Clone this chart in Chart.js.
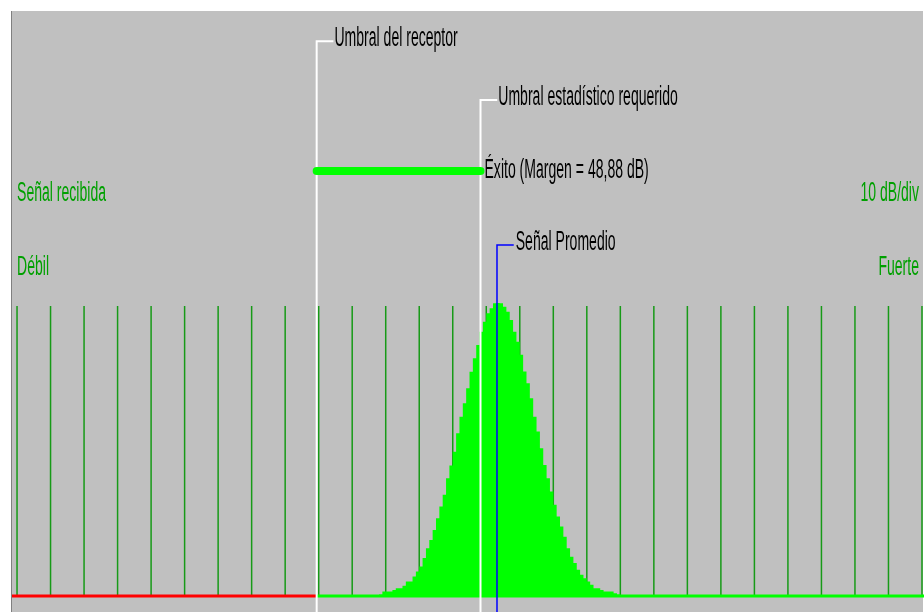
<!DOCTYPE html>
<html>
<head>
<meta charset="utf-8">
<script src="https://cdn.jsdelivr.net/npm/chart.js@4.4.1/dist/chart.umd.min.js"></script>
<style>
  html, body { margin: 0; padding: 0; background: #ffffff; }
  .container { width: 924px; height: 612px; position: relative; }
  canvas { width: 100% !important; height: 100% !important; }
</style>
</head>
<body>
<div class="container">
  <canvas id="marginChart"></canvas>
</div>
<script>
  "use strict";

  // ---------------------------
  // Data (dB on x, relative level on y, peak = 100)
  // ---------------------------

  const gridDb = [0, 10, 20, 30, 40, 50, 60, 70, 80, 90, 100, 110, 120, 130,
    140, 150, 160, 170, 180, 190, 200, 210, 220, 230, 240, 250, 260, 270];

  const signalStartDb = 107; // left edge of first 1 dB bin
  const signalLevel = [
    0, 0.5, 1.5, 1.5, 1.5, 2.0, 2.6, 2.6, 3.5, 4.9,
    4.9, 6.6, 8.3, 10.0, 12.9, 16.3, 19.1, 22.5, 26.5, 30.5,
    34.5, 40.2, 44.5, 49.2, 55.5, 61.2, 65.8, 70.9, 76.5, 81.1,
    85.7, 90.2, 93.6, 96.5, 98.2, 99.9, 100, 99.9, 98.7, 97.0,
    94.2, 90.2, 86.8, 82.3, 76.6, 72.6, 67.5, 61.2, 56.1, 50.4,
    44.7, 40.2, 35.6, 31.1, 27.1, 23.7, 20.2, 16.3, 13.4, 11.2,
    8.9, 7.2, 6.0, 4.9, 3.8, 2.6, 2.6, 2.0, 1.5, 1.5,
    1.5, 0.9, 0.5, 0
  ];

  const receiverThresholdDb = 89.4;
  const marginDb = 48.88;
  const requiredThresholdDb = receiverThresholdDb + marginDb;
  const meanSignalDb = 143.2;

  const GRID_TOP = 99;

  const labelReceiver = "Umbral del receptor";
  const labelRequired = "Umbral estadístico requerido";
  const labelSuccess = "Éxito (Margen = 48,88 dB)";
  const labelMean = "Señal Promedio";
  const labelSignal = "Señal recibida";
  const labelScale = "10 dB/div";
  const labelWeak = "Débil";
  const labelStrong = "Fuerte";

  // ---------------------------
  // Layout
  // ---------------------------

  const X_MIN = -1.5;
  const X_MAX = 270.6;
  const Y_MIN = -5.5;
  const Y_MAX = 199.7;
  const STUB = 5;

  const LVL_RECEIVER = 189.4;
  const LVL_REQUIRED = 169.3;
  const LVL_SUCCESS = 145.1;
  const LVL_MEAN = 119.8;
  const LVL_ROW1 = 134.7;
  const LVL_ROW2 = 109.4;

  const FONT = '27px "Liberation Sans", Arial, sans-serif';
  const SQUEEZE = 0.52;

  // ---------------------------
  // Build datasets
  // ---------------------------

  function gridPoints() {
    const pts = [];
    gridDb.forEach(x => {
      pts.push({ x: x, y: 0 }, { x: x, y: GRID_TOP }, { x: x, y: null });
    });
    return pts;
  }

  function signalPoints() {
    return signalLevel.map((v, i) => ({ x: signalStartDb + i, y: v }));
  }

  function marker(x, level) {
    return [{ x: x, y: Y_MIN }, { x: x, y: level }, { x: x + STUB, y: level }];
  }

  // ---------------------------
  // Panel + text plugin
  // ---------------------------

  function drawText(ctx, text, x, y, color, align) {
    ctx.save();
    ctx.translate(x, y);
    ctx.scale(SQUEEZE, 1);
    ctx.font = FONT;
    ctx.fillStyle = color;
    ctx.textAlign = align;
    ctx.textBaseline = "alphabetic";
    ctx.fillText(text, 0, 0);
    ctx.restore();
  }

  const panelPlugin = {
    id: "panel",
    beforeDraw(chart) {
      const { ctx, chartArea: a } = chart;
      ctx.save();
      ctx.fillStyle = "#c0c0c0";
      ctx.fillRect(a.left, a.top, a.right - a.left - 1, a.bottom - a.top);
      ctx.fillStyle = "#808080";
      ctx.fillRect(a.left - 1, a.top, 1, a.bottom - a.top);
      ctx.restore();
    },
    afterDatasetsDraw(chart) {
      const ctx = chart.ctx;
      const xs = chart.scales.x;
      const ys = chart.scales.y;
      const px = v => xs.getPixelForValue(v);
      const py = v => ys.getPixelForValue(v);
      const black = "#000000";
      const green = "#00a000";

      drawText(ctx, labelReceiver, px(receiverThresholdDb + STUB) + 1, py(LVL_RECEIVER) + 4.5, black, "left");
      drawText(ctx, labelRequired, px(requiredThresholdDb + STUB) + 1, py(LVL_REQUIRED) + 4.5, black, "left");
      drawText(ctx, labelSuccess, px(requiredThresholdDb) + 4, py(LVL_SUCCESS) + 7, black, "left");
      drawText(ctx, labelMean, px(meanSignalDb + STUB) + 2, py(LVL_MEAN) + 5, black, "left");

      drawText(ctx, labelSignal, px(0), py(LVL_ROW1), green, "left");
      drawText(ctx, labelWeak, px(0), py(LVL_ROW2), green, "left");
      drawText(ctx, labelScale, px(270) - 3, py(LVL_ROW1), green, "right");
      drawText(ctx, labelStrong, px(270) - 3, py(LVL_ROW2), green, "right");
    }
  };

  // ---------------------------
  // Chart
  // ---------------------------

  const ctx = document.getElementById("marginChart").getContext("2d");

  new Chart(ctx, {
    type: "line",
    data: {
      datasets: [
        {
          data: gridPoints(),
          borderColor: "#179a17",
          borderWidth: 1.5,
          spanGaps: false,
          order: 10
        },
        {
          data: signalPoints(),
          borderWidth: 0,
          borderColor: "#00ff00",
          backgroundColor: "#00ff00",
          stepped: "before",
          fill: "origin",
          order: 9
        },
        {
          data: [{ x: X_MIN, y: 0 }, { x: receiverThresholdDb, y: 0 }],
          borderColor: "#ff0000",
          borderWidth: 3,
          order: 8
        },
        {
          data: [{ x: receiverThresholdDb, y: 0 }, { x: X_MAX, y: 0 }],
          borderColor: "#00ff00",
          borderWidth: 3,
          order: 8
        },
        {
          data: marker(receiverThresholdDb, LVL_RECEIVER),
          borderColor: "#ffffff",
          borderWidth: 2,
          order: 5
        },
        {
          data: marker(requiredThresholdDb, LVL_REQUIRED),
          borderColor: "#ffffff",
          borderWidth: 2,
          order: 5
        },
        {
          data: marker(meanSignalDb, LVL_MEAN),
          borderColor: "#0000ff",
          borderWidth: 1.5,
          order: 4
        },
        {
          data: [{ x: receiverThresholdDb, y: LVL_SUCCESS }, { x: requiredThresholdDb, y: LVL_SUCCESS }],
          borderColor: "#00ff00",
          borderWidth: 8,
          borderCapStyle: "round",
          order: 3
        }
      ]
    },
    options: {
      responsive: true,
      maintainAspectRatio: false,
      animation: false,
      layout: { padding: { left: 12, top: 11, right: 0, bottom: 0 } },
      elements: {
        point: { radius: 0, hoverRadius: 0 },
        line: { tension: 0 }
      },
      plugins: {
        legend: { display: false },
        tooltip: { enabled: false }
      },
      scales: {
        x: { type: "linear", display: false, min: X_MIN, max: X_MAX },
        y: { type: "linear", display: false, min: Y_MIN, max: Y_MAX }
      }
    },
    plugins: [panelPlugin]
  });
</script>
</body>
</html>
